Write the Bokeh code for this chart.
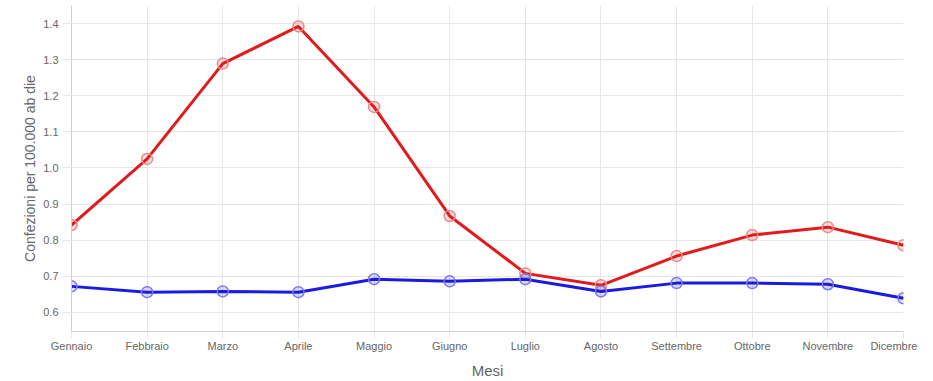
from bokeh.plotting import figure
from bokeh.models import Range1d, FixedTicker, NumeralTickFormatter
from bokeh.embed import file_html
from bokeh.resources import INLINE

months = ["Gennaio", "Febbraio", "Marzo", "Aprile", "Maggio", "Giugno",
          "Luglio", "Agosto", "Settembre", "Ottobre", "Novembre", "Dicembre"]
red_values = [0.842, 1.025, 1.289, 1.392, 1.169, 0.867, 0.708, 0.675, 0.756, 0.814, 0.836, 0.786]
blue_values = [0.672, 0.656, 0.658, 0.656, 0.692, 0.686, 0.692, 0.658, 0.681, 0.681, 0.678, 0.639]
y_ticks = [0.6, 0.7, 0.8, 0.9, 1.0, 1.1, 1.2, 1.3, 1.4]

x = list(range(len(months)))
FONT = "Liberation Sans"
GRID = "#e6e6e6"

p = figure(width=917, height=381, output_backend="svg", toolbar_location=None,
           x_range=Range1d(0, len(months) - 1), y_range=Range1d(0.547, 1.45),
           min_border_left=71, min_border_right=14, min_border_top=5, min_border_bottom=0)
p.outline_line_color = None
p.background_fill_color = "white"
p.border_fill_color = "white"

p.xaxis.ticker = FixedTicker(ticks=x)
p.xaxis.major_label_overrides = {i: m for i, m in enumerate(months)}
p.yaxis.ticker = FixedTicker(ticks=y_ticks)
p.yaxis.formatter = NumeralTickFormatter(format="0.0")

for ax in (p.xaxis[0], p.yaxis[0]):
    ax.axis_line_color = "#cfcfcf"
    ax.axis_line_width = 1
    ax.major_tick_line_color = GRID
    ax.major_tick_in = 0
    ax.minor_tick_line_color = None
    ax.major_label_text_font = FONT
    ax.major_label_text_color = "#666666"
    ax.major_label_text_font_size = "11px"
    ax.axis_label_text_font = FONT
    ax.axis_label_text_color = "#666666"
    ax.axis_label_text_font_style = "normal"

p.xaxis.major_tick_out = 7
p.yaxis.major_tick_out = 9
p.xaxis.axis_label = "Mesi"
p.yaxis.axis_label = "Confezioni per 100.000 ab die"
p.xaxis.axis_label_text_font_size = "15px"
p.yaxis.axis_label_text_font_size = "14px"
p.xaxis.major_label_standoff = 1
p.xaxis.axis_label_standoff = 7
p.yaxis.major_label_standoff = 4
p.yaxis.axis_label_standoff = 2

p.xgrid.grid_line_color = GRID
p.ygrid.grid_line_color = GRID

p.line(x, red_values, line_color="#e31a1c", line_width=3)
p.scatter(x, red_values, size=11, marker="circle", line_color="#e88a8a",
          line_width=1.5, fill_color="#e31a1c", fill_alpha=0.15)
p.line(x, blue_values, line_color="#1a1ae0", line_width=3)
p.scatter(x, blue_values, size=11, marker="circle", line_color="#7a7ae8",
          line_width=1.5, fill_color="#1a1ae0", fill_alpha=0.15)

open("out.html", "w").write(file_html(p, INLINE))
